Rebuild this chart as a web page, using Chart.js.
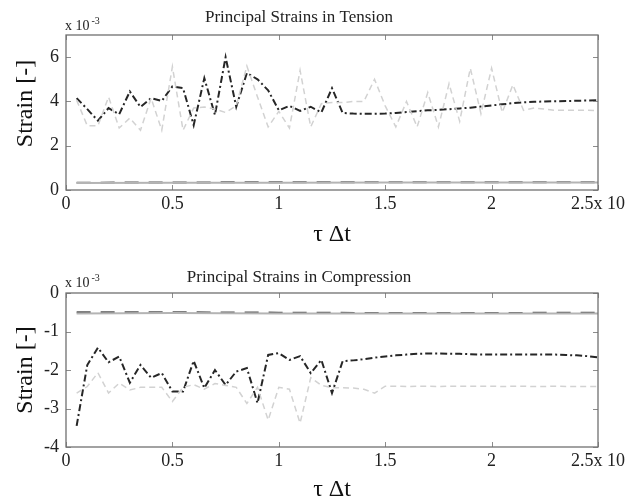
<!DOCTYPE html>
<html>
<head>
<meta charset="utf-8">
<script src="https://cdn.jsdelivr.net/npm/chart.js@4.4.1/dist/chart.umd.min.js"></script>
<style>
  html, body { margin: 0; padding: 0; background: #fff; overflow: hidden; }
  #wrap { position: relative; width: 632px; height: 499px; }
  canvas { position: absolute; left: 0; }
</style>
</head>
<body>
<div id="wrap">
  <canvas id="tension-chart" width="632" height="250" style="top:0"></canvas>
  <canvas id="compression-chart" width="632" height="247" style="top:258px"></canvas>
</div>
<script>
// time axis (x 10^?), one sample every 0.05
const timeSteps = [
  0.05, 0.1, 0.15, 0.2, 0.25, 0.3, 0.35, 0.4, 0.45, 0.5,
  0.55, 0.6, 0.65, 0.7, 0.75, 0.8, 0.85, 0.9, 0.95, 1.0,
  1.05, 1.1, 1.15, 1.2, 1.25, 1.3, 1.35, 1.4, 1.45, 1.5,
  1.55, 1.6, 1.65, 1.7, 1.75, 1.8, 1.85, 1.9, 1.95, 2.0,
  2.05, 2.1, 2.15, 2.2, 2.25, 2.3, 2.35, 2.4, 2.45, 2.5
];

// principal strains in tension (x 10^-3)
const tensionDark = [
  4.15, 3.65, 3.13, 3.7, 3.42, 4.45, 3.75, 4.15, 4.02, 4.68,
  4.6, 2.93, 5.05, 3.39, 6.0, 3.76, 5.28, 5.0, 4.5, 3.6,
  3.8, 3.57, 3.76, 3.5, 4.6, 3.48, 3.45, 3.44, 3.44, 3.45,
  3.48, 3.52, 3.56, 3.6, 3.62, 3.65, 3.68, 3.72, 3.77, 3.82,
  3.87, 3.92, 3.96, 3.98, 4.0, 4.01, 4.02, 4.03, 4.04, 4.05
];
const tensionLight = [
  4.06, 2.9, 2.9, 4.2, 2.8, 3.25, 2.7, 4.15, 2.7, 5.57,
  2.7, 3.7, 3.75, 3.65, 3.5, 3.8, 5.6, 4.2, 2.85, 3.55,
  2.8, 5.4, 2.85, 3.9, 3.95, 3.95, 4.0, 4.0, 5.0, 3.8,
  2.85, 4.0, 2.85, 4.4, 2.85, 4.8, 3.1, 5.5, 3.45, 5.5,
  3.5, 4.75, 3.6, 3.7, 3.65, 3.6, 3.6, 3.6, 3.6, 3.58
];

// principal strains in compression (x 10^-3)
const compressionDark = [
  -3.45, -1.87, -1.42, -1.8, -1.65, -2.33, -1.87, -2.2, -2.08, -2.56,
  -2.56, -1.76, -2.47, -2.0, -2.39, -2.04, -1.95, -2.86, -1.61, -1.56,
  -1.74, -1.64, -2.08, -1.74, -2.6, -1.77, -1.75, -1.72, -1.68, -1.65,
  -1.62, -1.6, -1.58, -1.57, -1.57, -1.58, -1.58, -1.59, -1.6, -1.6,
  -1.6, -1.6, -1.6, -1.6, -1.6, -1.6, -1.61, -1.62, -1.64, -1.67
];
const compressionLight = [
  -2.6, -2.43, -2.07, -2.6, -2.34, -2.52, -2.45, -2.45, -2.45, -2.82,
  -2.45, -2.38, -2.5, -2.35, -2.4, -2.45, -2.87, -2.45, -3.3, -2.45,
  -2.5, -3.38, -2.2, -2.4, -2.46, -2.46, -2.47, -2.5, -2.6, -2.42,
  -2.42, -2.43, -2.42, -2.42, -2.43, -2.42, -2.42, -2.42, -2.42, -2.42,
  -2.43, -2.42, -2.42, -2.43, -2.43, -2.42, -2.43, -2.43, -2.43, -2.43
];

// the nearly flat minor strain lines
const baseSteps = [0.05, 0.5, 1.0, 1.5, 2.0, 2.5];
const tensionBaseLight = [0.32, 0.33, 0.33, 0.34, 0.34, 0.34];
const tensionBaseDark = [0.33, 0.34, 0.35, 0.35, 0.35, 0.35];
const compressionBaseLight = [-0.53, -0.52, -0.53, -0.53, -0.53, -0.53];
const compressionBaseDark = [-0.5, -0.5, -0.51, -0.52, -0.52, -0.51];

const xTicks = [0, 0.5, 1, 1.5, 2, 2.5];

const SERIF = "'Liberation Serif', 'Times New Roman', serif";

function toPoints(xs, ys) {
  return xs.map((x, i) => ({ x: x, y: ys[i] }));
}

// box frame, inward tick marks and the "x 10^-3" multiplier
const frameTicks = {
  id: "frameTicks",
  afterDatasetsDraw(chart, args, opts) {
    const { ctx, chartArea: a, scales: { x, y } } = chart;
    ctx.save();
    ctx.strokeStyle = "#8c8c8c";
    ctx.lineWidth = 1;
    ctx.beginPath();
    x.ticks.forEach(t => {
      const px = Math.round(x.getPixelForValue(t.value)) + 0.5;
      ctx.moveTo(px, a.top); ctx.lineTo(px, a.top + 5);
      ctx.moveTo(px, a.bottom); ctx.lineTo(px, a.bottom - 5);
    });
    y.ticks.forEach(t => {
      const py = Math.round(y.getPixelForValue(t.value)) + 0.5;
      ctx.moveTo(a.left, py); ctx.lineTo(a.left + 5, py);
      ctx.moveTo(a.right, py); ctx.lineTo(a.right - 5, py);
    });
    ctx.stroke();

    ctx.strokeStyle = "#707070";
    ctx.lineWidth = 1.3;
    ctx.strokeRect(a.left, a.top, a.right - a.left, a.bottom - a.top);

    ctx.fillStyle = "#222";
    ctx.textBaseline = "alphabetic";
    ctx.font = "14px " + SERIF;
    const baseY = a.top - opts.expGap;
    ctx.fillText("x 10", a.left - 1, baseY);
    const w = ctx.measureText("x 10").width;
    ctx.font = "10px " + SERIF;
    ctx.fillText("-3", a.left + w + 1, baseY - 6);
    ctx.restore();
  }
};

function buildChart(canvasId, cfg) {
  const titleLine = 17 * 1.2;
  return new Chart(document.getElementById(canvasId), {
    type: "line",
    data: {
      datasets: [
        {
          data: toPoints(baseSteps, cfg.baseLight),
          borderColor: "#b4b4b4",
          borderWidth: 2
        },
        {
          data: toPoints(baseSteps, cfg.baseDark),
          borderColor: "#555",
          borderWidth: 2,
          borderDash: [14, 10]
        },
        {
          data: toPoints(timeSteps, cfg.light),
          borderColor: "#d2d2d2",
          borderWidth: 1.5,
          borderDash: [6, 4]
        },
        {
          data: toPoints(timeSteps, cfg.dark),
          borderColor: "#262626",
          borderWidth: 2,
          borderDash: [7, 3, 2, 3]
        }
      ]
    },
    options: {
      responsive: false,
      animation: false,
      elements: { point: { radius: 0 }, line: { tension: 0 } },
      layout: { padding: { left: 0, right: 34, top: 0, bottom: 0 } },
      plugins: {
        legend: { display: false },
        tooltip: { enabled: false },
        title: {
          display: true,
          text: cfg.title,
          color: "#222",
          font: { family: SERIF, size: 17, weight: "normal" },
          padding: { top: cfg.titleTop, bottom: 35 - titleLine - cfg.titleTop }
        },
        frameTicks: { expGap: cfg.expGap }
      },
      scales: {
        x: {
          type: "linear",
          min: 0,
          max: 2.5,
          afterFit: s => { s.height = cfg.xHeight; },
          afterBuildTicks: s => { s.ticks = xTicks.map(v => ({ value: v })); },
          grid: { display: false, drawTicks: false },
          border: { display: false },
          ticks: {
            padding: 3,
            color: "#222",
            maxRotation: 0,
            autoSkip: false,
            font: { family: SERIF, size: 18 },
            callback: v => v === 2.5 ? "2.5x 10" : String(v)
          },
          title: {
            display: true,
            text: "τ Δt",
            color: "#111",
            font: { family: SERIF, size: 24 },
            padding: { top: 0, bottom: 1 }
          }
        },
        y: {
          min: cfg.yMin,
          max: cfg.yMax,
          afterFit: s => { s.width = 66; },
          grid: { display: false, drawTicks: false },
          border: { display: false },
          ticks: {
            stepSize: cfg.yStep,
            includeBounds: false,
            padding: 7,
            color: "#222",
            font: { family: SERIF, size: 18 }
          },
          title: {
            display: true,
            text: cfg.yTitle,
            color: "#111",
            font: { family: SERIF, size: 24 },
            padding: { top: 11, bottom: 0 }
          }
        }
      }
    },
    plugins: [frameTicks]
  });
}

buildChart("tension-chart", {
  title: "Principal Strains in Tension",
  yTitle: "   Strain [-]",
  titleTop: 7,
  expGap: 5,
  xHeight: 60,
  yMin: 0, yMax: 7, yStep: 2,
  dark: tensionDark,
  light: tensionLight,
  baseLight: tensionBaseLight,
  baseDark: tensionBaseDark
});

buildChart("compression-chart", {
  title: "Principal Strains in Compression",
  yTitle: "Strain [-]",
  titleTop: 9,
  expGap: 6,
  xHeight: 58,
  yMin: -4, yMax: 0, yStep: 1,
  dark: compressionDark,
  light: compressionLight,
  baseLight: compressionBaseLight,
  baseDark: compressionBaseDark
});
</script>
</body>
</html>
